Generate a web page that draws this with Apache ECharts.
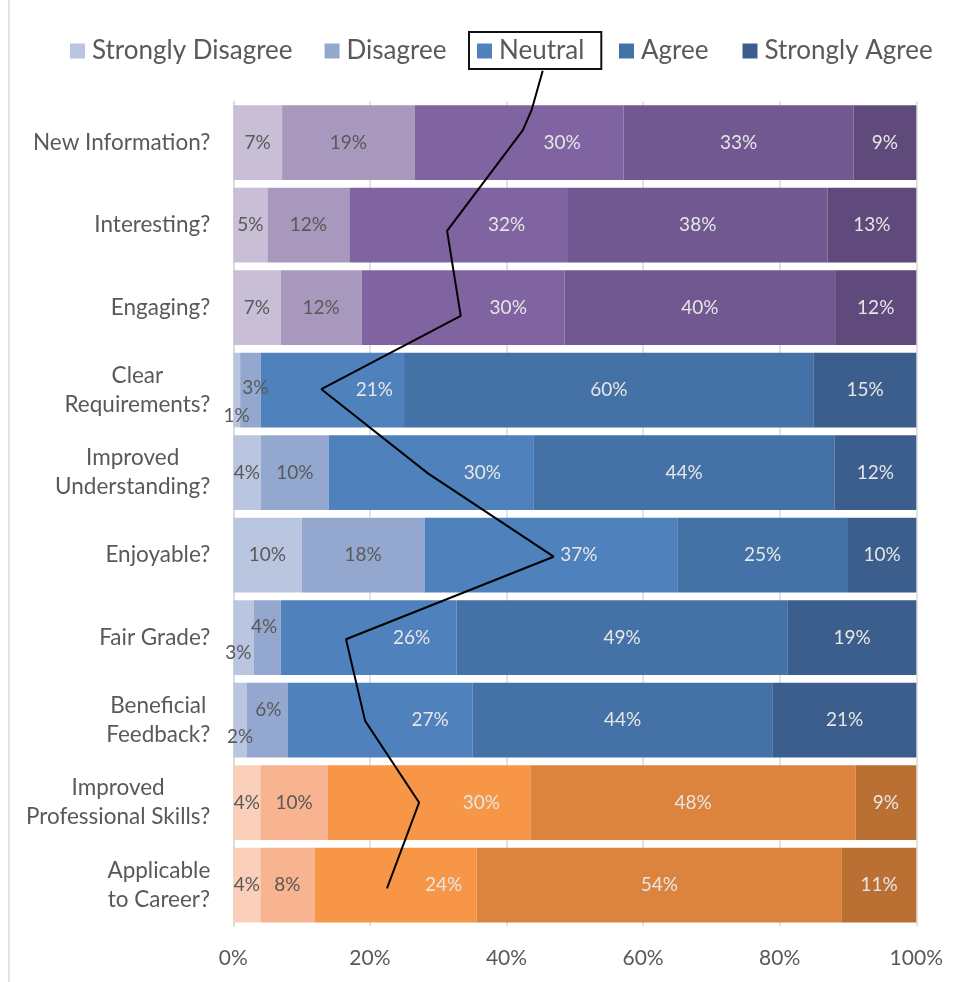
<!DOCTYPE html>
<html>
<head>
<meta charset="utf-8">
<script src="https://cdn.jsdelivr.net/npm/echarts@6/dist/echarts.min.js"></script>
<style>html,body{margin:0;padding:0;background:#fff}#c{width:959px;height:982px}</style>
</head>
<body>
<div id="c"></div>
<script>
const categories = ["New Information?", "Interesting?", "Engaging?", "Clear\nRequirements?", "Improved\nUnderstanding?", "Enjoyable?", "Fair Grade?", "Beneficial\nFeedback?", "Improved\nProfessional Skills?", "Applicable\nto Career?"];
const seriesNames = ["Strongly Disagree", "Disagree", "Neutral", "Agree", "Strongly Agree"];
const stronglyDisagree = [7, 5, 7, 1, 4, 10, 3, 2, 4, 4];
const disagree = [19, 12, 12, 3, 10, 18, 4, 6, 10, 8];
const neutral = [30, 32, 30, 21, 30, 37, 26, 27, 30, 24];
const agree = [33, 38, 40, 60, 44, 25, 49, 44, 48, 54];
const stronglyAgree = [9, 13, 12, 15, 12, 10, 19, 21, 9, 11];
const colorGroup = ["purple", "purple", "purple", "blue", "blue", "blue", "blue", "blue", "orange", "orange"];
// hand-drawn connector line (x in %, y in category-index units)
const lineX = [45.3, 43.7, 42.4, 31.3, 33.3, 12.9, 28.5, 46.9, 16.5, 19.3, 27.2, 22.5];
const lineY = [-0.87, -0.4, -0.15, 1.07, 2.1, 2.99, 4.01, 5.02, 6.02, 7.01, 8.0, 9.04];

const palette = {
  purple: ["#c8bed6", "#a898bd", "#8064a2", "#715890", "#5f4a7b"],
  blue:   ["#bac6e0", "#94a8cf", "#4f81bd", "#4472a7", "#3b5e8d"],
  orange: ["#fbd0bb", "#f8b390", "#f79646", "#dc843e", "#bb7033"]
};
const labelColors = ["#595959", "#595959", "#e6e6e6", "#e6e6e6", "#e6e6e6"];
// label nudges for moved labels: [categoryIndex, seriesIndex, dx, dy]
const labelNudges = [
  [3, 0, 0, 26], [3, 1, 5, -2], [6, 0, -5, 15], [6, 1, -3, -11], [7, 0, 0, 17], [7, 1, 1, -10],
  [0, 2, 43, 0], [1, 2, 48, 0], [2, 2, 45, 0], [3, 2, 42, 0], [4, 2, 51, 0],
  [5, 2, 28, 0], [6, 2, 43, 0], [7, 2, 50, 0], [8, 2, 52, 0], [9, 2, 48, 0]
];

const raw = [stronglyDisagree, disagree, neutral, agree, stronglyAgree];
const totals = categories.map((_, i) => raw.reduce((s, arr) => s + arr[i], 0));
const FONT = "Lato";

const barSeries = raw.map((arr, si) => ({
  name: seriesNames[si],
  type: "bar",
  stack: "total",
  barCategoryGap: "9.5%",
  itemStyle: { color: palette.blue[si] },
  label: {
    show: true,
    position: "inside",
    fontFamily: FONT,
    fontSize: 19,
    color: labelColors[si],
    formatter: p => raw[si][p.dataIndex] + "%"
  },
  data: arr.map((v, ci) => {
    const item = { value: v / totals[ci] * 100, itemStyle: { color: palette[colorGroup[ci]][si] } };
    const n = labelNudges.find(x => x[0] === ci && x[1] === si);
    if (n) item.label = { offset: [n[2], n[3]] };
    return item;
  })
}));

const lineSeries = {
  name: "connector",
  type: "line",
  xAxisIndex: 0,
  yAxisIndex: 1,
  clip: false,
  symbol: "none",
  z: 5,
  silent: true,
  lineStyle: { color: "#000", width: 2 },
  data: lineX.map((x, i) => [x, lineY[i]])
};

const legendText = { fontFamily: FONT, fontSize: 26, color: "#595959", padding: [0, 0, 0, 2] };

const chart = echarts.init(document.getElementById("c"), null, { renderer: "canvas" });
chart.setOption({
  animation: false,
  backgroundColor: "#fff",
  legend: [
    { data: ["Strongly Disagree", "Disagree"], left: 70, top: 38, itemWidth: 15, itemHeight: 15, icon: "rect", itemGap: 32, padding: 0, textStyle: legendText },
    { data: ["Neutral"], left: 469, top: 32, itemWidth: 15, itemHeight: 15, icon: "rect", padding: [6, 17, 5, 8], borderColor: "#111", borderWidth: 2, textStyle: legendText },
    { data: ["Agree", "Strongly Agree"], left: 619, top: 38, itemWidth: 15, itemHeight: 15, icon: "rect", itemGap: 34, padding: 0, textStyle: legendText }
  ],
  grid: { left: 233.3, right: 42.7, top: 101.3, bottom: 55.7, containLabel: false },
  xAxis: [{
    type: "value", min: 0, max: 100, interval: 20,
    axisLine: { show: false }, axisTick: { show: false },
    splitLine: { show: true, lineStyle: { color: "#d9d9d9", width: 1.5 } },
    axisLabel: { formatter: "{value}%", fontFamily: FONT, fontSize: 21, color: "#595959", margin: 21 }
  }],
  yAxis: [{
    type: "category", inverse: true, data: categories,
    axisLine: { show: true, lineStyle: { color: "#d9d9d9", width: 1.5 } },
    axisTick: { show: false },
    axisLabel: {
      margin: 23, align: "right",
      formatter: v => v.split("\n").map(l => "{c|" + l + "}").join("\n"),
      rich: { c: { align: "center", fontFamily: FONT, fontSize: 22.5, lineHeight: 29, color: "#595959" } }
    }
  }, {
    type: "value", min: -0.5, max: 9.5, inverse: true, show: false
  }],
  graphic: [{
    type: "line", silent: true,
    shape: { x1: 9, y1: 0, x2: 9, y2: 982 },
    style: { stroke: "#d9d9d9", lineWidth: 1.5 }
  }],
  series: barSeries.concat([lineSeries])
});
</script>
</body>
</html>
